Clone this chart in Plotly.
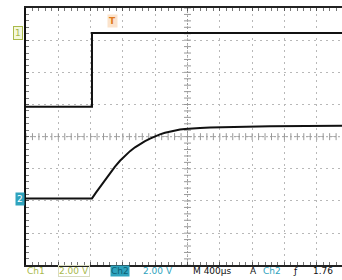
import plotly.graph_objects as go
import numpy as np

# ---- data (time in microseconds, amplitude in screen divisions) ----
ch1_t = [0, 817, 817, 3913]
ch1_y = [0.93, 0.93, 3.225, 3.225]

ch2_t = [0, 817, 866, 916, 978, 1040, 1102, 1164, 1226, 1288, 1350, 1412, 1474, 1536, 1597, 1659, 1721, 1783, 1845, 1907, 1969, 2031, 2155, 2279, 2465, 2650, 3022, 3913]
ch2_y = [-1.92, -1.92, -1.74, -1.56, -1.34, -1.13, -0.93, -0.75, -0.59, -0.45, -0.33, -0.23, -0.14, -0.06, 0.01, 0.07, 0.12, 0.16, 0.19, 0.22, 0.24, 0.255, 0.27, 0.285, 0.30, 0.31, 0.325, 0.34]

status_labels = ["Ch1", "2.00 V", "Ch2", "2.00 V", "M 400µs", "A", "Ch2", "ƒ", "1.76"]

DIV_T = 400.0          # µs per division
X_MAX = 3913
GRID = "#b8b8b8"

fig = go.Figure()

# centre graticule ticks
tick_x = np.arange(0, X_MAX, DIV_T / 5)
tick_y = np.arange(-4, 4.01, 0.2)
fig.add_trace(go.Scatter(x=tick_x, y=[0] * len(tick_x), mode="markers",
                         marker=dict(symbol="line-ns", size=5, line=dict(color="#999", width=1)),
                         hoverinfo="skip", showlegend=False))
fig.add_trace(go.Scatter(x=[5 * DIV_T] * len(tick_y), y=tick_y, mode="markers",
                         marker=dict(symbol="line-ew", size=5, line=dict(color="#999", width=1)),
                         hoverinfo="skip", showlegend=False))

fig.add_trace(go.Scatter(x=ch1_t, y=ch1_y, mode="lines",
                         line=dict(color="#111", width=2), showlegend=False))
fig.add_trace(go.Scatter(x=ch2_t, y=ch2_y, mode="lines",
                         line=dict(color="#111", width=2), showlegend=False))

fig.update_xaxes(range=[0, X_MAX], dtick=DIV_T, tick0=0, showticklabels=False,
                 showgrid=True, gridcolor=GRID, griddash="2px,4px", gridwidth=1,
                 zeroline=False, showline=True, linecolor="#222", linewidth=1.5,
                 ticks="inside", ticklen=3, tickcolor="#555", mirror="ticks",
                 minor=dict(dtick=DIV_T / 5, ticks="inside", ticklen=3, tickcolor="#777", showgrid=False))
fig.update_yaxes(range=[-3.99, 4], dtick=1, tick0=0, showticklabels=False,
                 showgrid=True, gridcolor=GRID, griddash="2px,4px", gridwidth=1,
                 zeroline=False, showline=True, linecolor="#111", linewidth=2,
                 ticks="inside", ticklen=3, tickcolor="#555",
                 minor=dict(dtick=0.2, ticks="inside", ticklen=3, tickcolor="#777", showgrid=False))

fig.add_shape(type="line", xref="paper", yref="y", x0=0, x1=1, y0=0, y1=0,
              line=dict(color="#999", width=1, dash="2px,2px"), layer="below")
fig.add_shape(type="line", xref="x", yref="paper", x0=5 * DIV_T, x1=5 * DIV_T, y0=0, y1=1,
              line=dict(color="#999", width=1, dash="2px,2px"), layer="below")

CH1C = "#a9b94a"
CH2C = "#2fa3bd"
FONT = "DejaVu Sans"

# channel ground markers
fig.add_annotation(xref="paper", yref="y", x=-0.01, y=3.225, text="1", showarrow=False,
                   font=dict(size=9, color=CH1C, family=FONT), bgcolor="#f4f8dc",
                   bordercolor=CH1C, borderwidth=1, borderpad=1, xanchor="right")
fig.add_annotation(xref="paper", yref="y", x=-0.003, y=-1.95, text="2", showarrow=False,
                   font=dict(size=9, color="white", family=FONT), bgcolor=CH2C,
                   borderpad=1, xanchor="right")
# trigger marker
fig.add_annotation(xref="x", yref="paper", x=1065, y=0.975, text="<b>T</b>", showarrow=False,
                   font=dict(size=9, color="#e07a20", family=FONT), bgcolor="#fbe3cc", borderpad=1)

# status bar
sy = -0.025
items = [
    (26, status_labels[0], CH1C, None, None),
    (58, status_labels[1], CH1C, None, "#d8dcc0"),
    (110, status_labels[2], "#0d5f73", CH2C, None),
    (142, status_labels[3], CH2C, None, None),
    (192, status_labels[4], "#111", None, None),
    (249, status_labels[5], "#111", None, None),
    (262, status_labels[6], CH2C, None, None),
    (292, status_labels[7], "#111", None, None),
    (312, status_labels[8], "#111", None, None),
]
for px, txt, col, bg, border in items:
    kw = {}
    if bg:
        kw["bgcolor"] = bg
    if border:
        kw["bordercolor"] = border
        kw["borderwidth"] = 1
    fig.add_annotation(xref="paper", yref="paper", x=(px - 26) / 316, y=sy, text=txt,
                       showarrow=False, xanchor="left", yanchor="middle", borderpad=0,
                       font=dict(size=9, color=col, family=FONT), **kw)

fig.update_layout(width=342, height=280, margin=dict(l=26, r=0, t=8, b=15),
                  paper_bgcolor="white", plot_bgcolor="white")

fig.write_html("out.html", config={"displayModeBar": False},
               post_script="document.body.style.margin='0';document.body.style.overflow='hidden';")
